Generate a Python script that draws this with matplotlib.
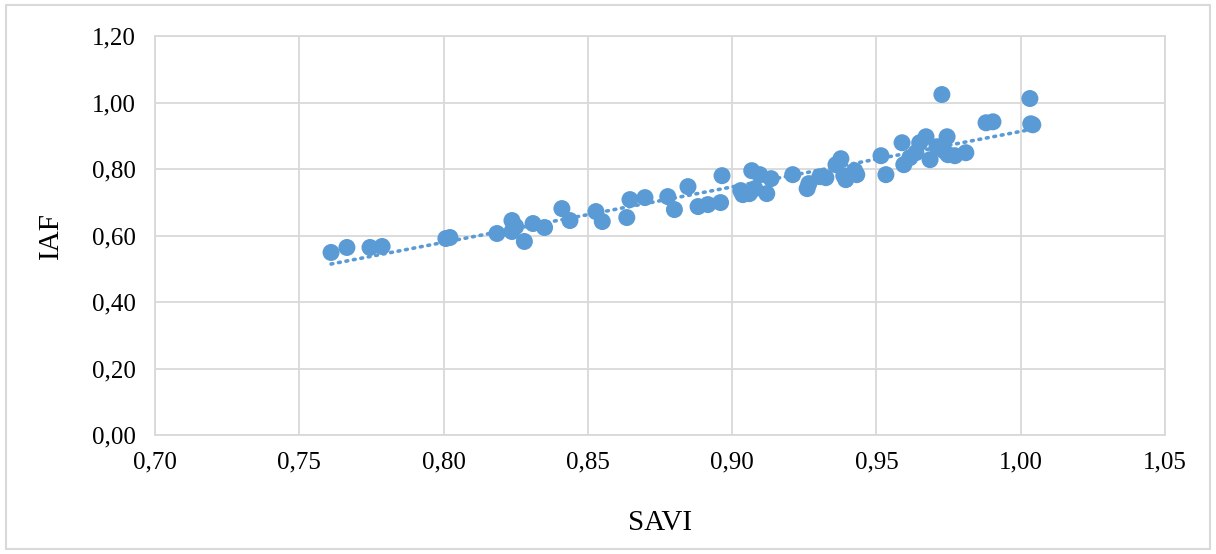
import numpy as np
import matplotlib.pyplot as plt
from matplotlib.patches import Rectangle
from matplotlib.ticker import FuncFormatter

# SAVI vs IAF
savi = [0.761, 0.7665, 0.7745, 0.7787, 0.8008, 0.8022, 0.8185, 0.8237, 0.8237, 0.825,
        0.828, 0.831, 0.835, 0.841, 0.8438, 0.8528, 0.855, 0.8635, 0.8646, 0.8698,
        0.8777, 0.880, 0.8847, 0.8882, 0.8916, 0.896, 0.8965, 0.903, 0.9037, 0.906,
        0.9068, 0.9079, 0.9096, 0.912, 0.9135, 0.921, 0.926, 0.9266, 0.9304, 0.9325,
        0.936, 0.9377, 0.9387, 0.9394, 0.9425, 0.9432, 0.9516, 0.9533, 0.9589, 0.9595,
        0.9616, 0.9637, 0.965, 0.9672, 0.9686, 0.971, 0.9727, 0.9734, 0.9745, 0.9748,
        0.9772, 0.981, 0.988, 0.9904, 1.0032, 1.0035, 1.0042]
iaf = [0.549, 0.564, 0.564, 0.567, 0.591, 0.594, 0.606, 0.645, 0.612, 0.627,
       0.582, 0.636, 0.624, 0.681, 0.645, 0.672, 0.642, 0.654, 0.708, 0.714,
       0.717, 0.678, 0.747, 0.687, 0.693, 0.699, 0.780, 0.735, 0.723, 0.726,
       0.795, 0.741, 0.783, 0.726, 0.771, 0.783, 0.741, 0.756, 0.777, 0.774,
       0.813, 0.831, 0.780, 0.768, 0.795, 0.783, 0.840, 0.783, 0.879, 0.813,
       0.834, 0.849, 0.879, 0.897, 0.828, 0.867, 1.024, 0.855, 0.897, 0.843,
       0.840, 0.849, 0.939, 0.942, 1.012, 0.936, 0.933]

x_ticks = [0.70, 0.75, 0.80, 0.85, 0.90, 0.95, 1.00, 1.05]
y_ticks = [0.0, 0.2, 0.4, 0.6, 0.8, 1.0, 1.2]

blue = "#5B9BD5"
plt.rcParams['font.family'] = ['Liberation Serif', 'DejaVu Serif']

fig = plt.figure(figsize=(12.16, 5.54), dpi=100)
ax = fig.add_axes([0.1275, 0.2148, 0.8305, 0.7202])

ax.scatter(savi, iaf, s=150, color=blue, edgecolors='none', zorder=3)

# linear trendline
x = np.array(savi)
slope, inter = np.polyfit(x, np.array(iaf), 1)
xs = np.array([x.min(), x.max()])
ax.plot(xs, slope * xs + inter, color=blue, lw=2.6, ls=(0, (0.5, 1.6)),
        dash_capstyle='round', zorder=2)

ax.set_xlim(0.70, 1.05)
ax.set_ylim(0.0, 1.2)
ax.set_xticks(x_ticks)
ax.set_yticks(y_ticks)
fmt = FuncFormatter(lambda v, p: f"{v:.2f}".replace('.', ','))
ax.xaxis.set_major_formatter(fmt)
ax.yaxis.set_major_formatter(fmt)
ax.tick_params(length=0, labelsize=18, colors='#000000')
ax.tick_params(axis='x', pad=12)
ax.tick_params(axis='y', pad=14)

ax.grid(True, color='#D9D9D9', lw=1.3)
ax.set_axisbelow(True)
for s in ax.spines.values():
    s.set_color('#D9D9D9')
    s.set_linewidth(1.3)

ax.set_xlabel('SAVI', fontsize=21, labelpad=26)
ax.set_ylabel('IAF', fontsize=21, labelpad=20)

# outer chart border
fig.patches.append(Rectangle((0.005, 0.009), 0.99, 0.982, transform=fig.transFigure,
                             fill=False, edgecolor='#D9D9D9', lw=1.5))

fig.savefig('out.png', dpi=100)
